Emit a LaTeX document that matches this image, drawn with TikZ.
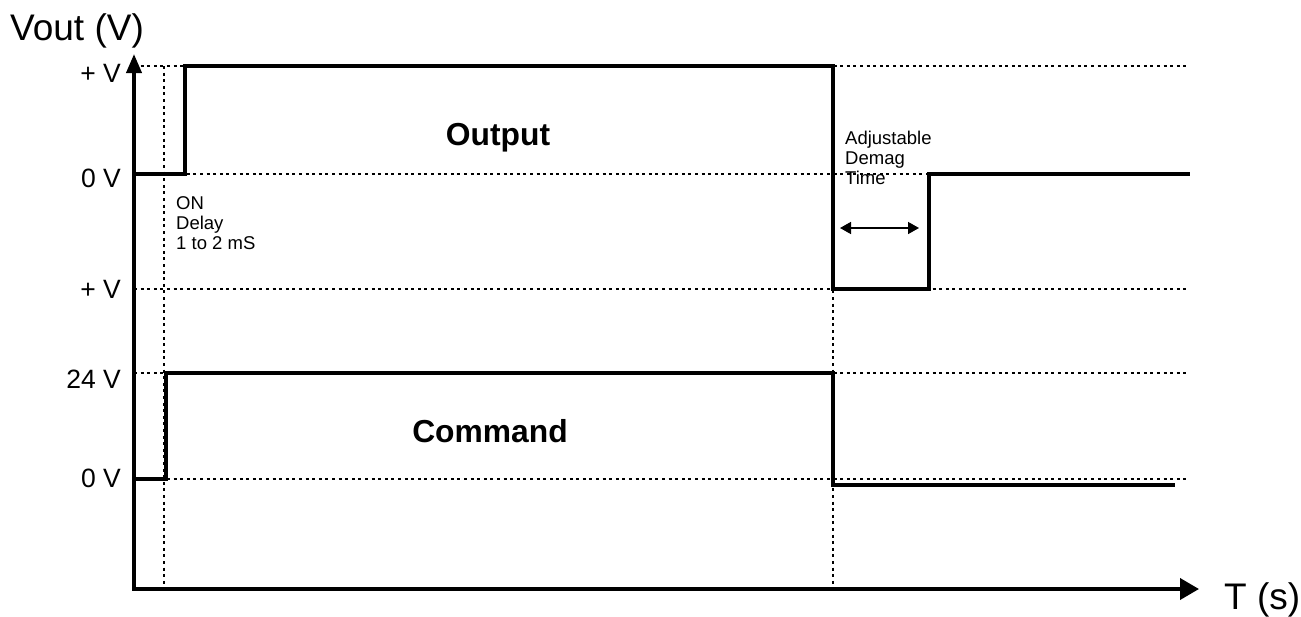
\documentclass[tikz,border=0pt]{standalone}
\usepackage{fontspec}
\setmainfont{Liberation Sans}
\usetikzlibrary{arrows.meta}
\begin{document}
\begin{tikzpicture}[x=1pt,y=-1pt,
  wave/.style={line width=4.2pt,line join=miter,line cap=rect},
  axis/.style={line width=3.8pt,line join=miter},
  guide/.style={line width=1.2pt,dash pattern=on 3pt off 3.6pt},
  lvl/.style={anchor=base east,font=\fontsize{26.5}{26.5}\selectfont,inner sep=0pt},
  note/.style={anchor=base west,font=\fontsize{18.5}{20}\selectfont,inner sep=0pt,align=left},
  big/.style={anchor=base,font=\fontsize{31.8}{31.8}\selectfont\bfseries,inner sep=0pt},
  title/.style={anchor=base west,font=\fontsize{37}{37}\selectfont,inner sep=0pt}]
\useasboundingbox (0,0) rectangle (1301,616);
% guide lines
\draw[guide] (134,66) -- (1188,66);
\draw[guide] (134,174) -- (1188,174);
\draw[guide] (134,289) -- (1188,289);
\draw[guide] (134,373) -- (1188,373);
\draw[guide] (134,479) -- (1188,479);
\draw[guide] (164,66) -- (164,589);
\draw[guide] (833,66) -- (833,589);
% output waveform
\draw[wave] (136,174) -- (185,174) -- (185,66) -- (833,66) -- (833,289) -- (929,289) -- (929,174) -- (1188,174);
% command waveform
\draw[wave] (136,479) -- (166,479) -- (166,373) -- (833,373) -- (833,485) -- (1173,485);
% axes
\coordinate (ytip) at (134,54);
\coordinate (orig) at (134,589);
\coordinate (xtip) at (1199,589);
\draw[axis,{Triangle[length=19pt,width=15pt]}-{Triangle[length=19pt,width=21pt]}] (ytip) -- (orig) -- (xtip);
% demag arrow
\coordinate (da) at (840,228);
\coordinate (db) at (919,228);
\draw[line width=1.5pt,{Triangle[length=11pt,width=12pt]}-{Triangle[length=11pt,width=12pt]}] (da) -- (db);
% labels
\node[title] (vout) at (10,40) {Vout (V)};
\node[title] (ts) at (1224,609) {T (s)};
\node[lvl] (l1) at (121,82) {+ V};
\node[lvl] (l2) at (121,187) {0 V};
\node[lvl] (l3) at (121,298) {+ V};
\node[lvl] (l4) at (121,388) {24 V};
\node[lvl] (l5) at (121,487) {0 V};
\node[big] (out) at (498,145) {Output};
\node[big] (cmd) at (490,442) {Command};
\node[note,anchor=north west] (ond) at (176,196) {ON\\Delay\\1 to 2 mS};
\node[note,anchor=north west] (adj) at (845,131) {Adjustable\\Demag\\Time};
\end{tikzpicture}
\end{document}
